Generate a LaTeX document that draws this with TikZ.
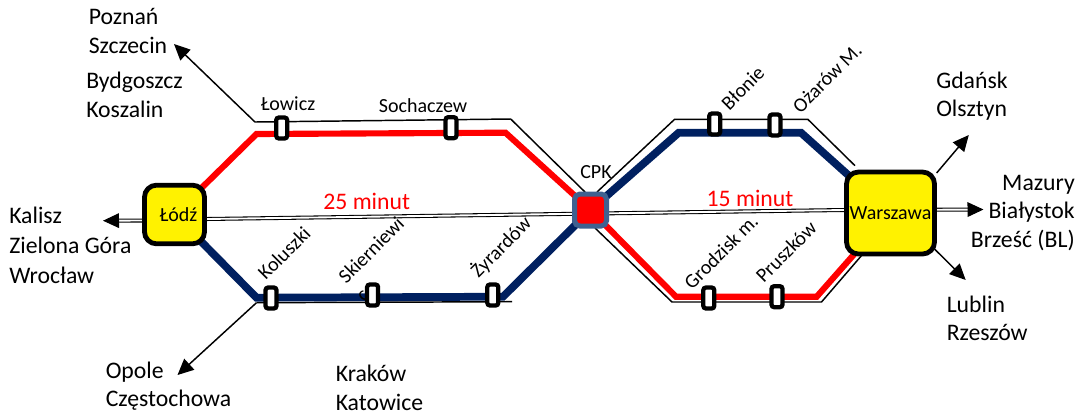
\documentclass[tikz,border=0pt]{standalone}
\usepackage{fontspec}
\setmainfont{Carlito}
\usetikzlibrary{arrows.meta,backgrounds}
\definecolor{kolorgranat}{HTML}{002060}
\definecolor{kolorcpk}{HTML}{3F6190}
\tikzset{
  miasto/.style={draw, line width=3.6pt, rounded corners=9pt, fill=yellow, outer sep=0pt, inner sep=0pt, font=\fontsize{15pt}{18pt}\selectfont},
  stacja/.style={draw, line width=3.2pt, rounded corners=2pt, fill=white, minimum width=8.25pt, minimum height=15.75pt, outer sep=0pt, inner sep=0pt},
  nazwa/.style={font=\fontsize{15pt}{18pt}\selectfont, inner sep=0pt},
  kierunek/.style={font=\fontsize{17.8pt}{21.4pt}\selectfont, inner sep=0pt, align=left, anchor=west},
  czas/.style={font=\fontsize{17.8pt}{21pt}\selectfont, text=red, inner sep=0pt},
  czerwona/.style={draw=red, line width=4.6pt},
  granatowa/.style={draw=kolorgranat, line width=5.8pt},
  cienka/.style={draw=black, line width=1.1pt},
  strzalka/.style={draw=black, line width=1.1pt, -{Triangle[length=12pt,width=11pt]}},
  podwojna/.style={draw=black, line width=0.8pt, double=white, double distance=1.4pt}
}
\begin{document}
\begin{tikzpicture}[x=0.75pt,y=-0.75pt]
  \useasboundingbox (0,0) rectangle (1077,415);
  % wezly
  \node[miasto, minimum width=45pt, minimum height=44pt] (lodz) at (174.5,214.5) {\hspace{6pt}Łódź};
  \node[miasto, minimum width=66pt, minimum height=61.5pt] (warszawa) at (890.5,213) {Warszawa};
  \node[draw=kolorcpk, line width=3.75pt, rounded corners=4pt, fill=red, minimum size=24pt, outer sep=0pt, inner sep=0pt] (cpk) at (590.5,210) {};
  \node[nazwa] (cpkl) at (596,172) {CPK};
  % stacje
  \node[stacja] (lowicz) at (281.7,128) {};
  \node[stacja] (sochaczew) at (451,127.7) {};
  \node[stacja] (koluszki) at (271,298) {};
  \node[stacja] (skierniewice) at (372.6,295) {};
  \node[stacja] (zyrardow) at (492.8,295) {};
  \node[stacja] (blonie) at (714.7,124) {};
  \node[stacja] (ozarow) at (775,125) {};
  \node[stacja] (grodzisk) at (708.8,298) {};
  \node[stacja] (pruszkow) at (777,296.7) {};
  % nazwy stacji
  \node[nazwa] (lowiczl) at (288,104) {Łowicz};
  \node[nazwa] (sochaczewl) at (423,106) {Sochaczew};
  \node[nazwa, rotate=45] (koluszkil) at (284,253) {Koluszki};
  \node[nazwa, rotate=45] (skierniewicel) at (371,250) {Skierniewi};
  \node[nazwa, rotate=45] (zyrardowl) at (501,247) {Żyrardów};
  \node[nazwa, rotate=45] (bloniel) at (742.7,88) {Błonie};
  \node[nazwa, rotate=45] (ozarowl) at (827,78) {Ożarów M.};
  \node[nazwa, rotate=45] (grodziskl) at (721,251.7) {Grodzisk m.};
  \node[nazwa, rotate=45] (pruszkowl) at (786,251.7) {Pruszków};
  % kierunki
  \node[kierunek] (poznan) at (88.5,31) {Poznań\\Szczecin};
  \node[kierunek] (bydgoszcz) at (86,95) {Bydgoszcz\\Koszalin};
  \node[kierunek, font=\fontsize{17.8pt}{22.4pt}\selectfont] (kalisz) at (9,245) {Kalisz\\Zielona Góra\\Wrocław};
  \node[kierunek] (opole) at (105.5,386) {Opole\\Częstochowa};
  \node[kierunek] (krakow) at (335.5,388) {Kraków\\Katowice};
  \node[kierunek] (gdansk) at (936,96) {Gdańsk\\Olsztyn};
  \node[kierunek, align=right, anchor=east] (mazury) at (1075,213) {Mazury\\Białystok\\Brześć (BL)};
  \node[kierunek] (lublin) at (946.5,318.5) {Lublin\\Rzeszów};
  \node[czas] (czas25) at (366.7,201.7) {25 minut};
  \node[czas] (czas15) at (750,198) {15 minut};
  % punkty zalaman
  \coordinate (a1) at (256.5,134);
  \coordinate (a2) at (505.5,132.7);
  \coordinate (b1) at (256.5,297.7);
  \coordinate (b2) at (503,296.7);
  \coordinate (c1) at (678.7,132.7);
  \coordinate (c2) at (801,132.7);
  \coordinate (d1) at (676,296.7);
  \coordinate (d2) at (816.7,296.7);
  \coordinate (e1) at (255,122);
  \coordinate (e2) at (510.7,119);
  \coordinate (e3) at (585,192);
  \coordinate (f1) at (256.5,302.7);
  \coordinate (f2) at (512,301.7);
  \coordinate (g1) at (597,192);
  \coordinate (g2) at (674.6,119.3);
  \coordinate (g3) at (807.8,119.3);
  \coordinate (g4) at (855,165.7);
  \coordinate (h1) at (595,228);
  \coordinate (h2) at (672,302);
  \coordinate (h3) at (821.5,302);
  \coordinate (h4) at (862,255);
  \coordinate (nw) at (174,44);
  \coordinate (sw) at (177.5,375);
  \coordinate (ne) at (968.8,135);
  \coordinate (se) at (965.7,280);
  \coordinate (ne0) at (936.6,173);
  \coordinate (se0) at (934.5,249);
  \coordinate (o1) at (207,219);
  \coordinate (o2) at (844,210);
  \coordinate (o3) at (142,220.5);
  \coordinate (o4) at (103,220.7);
  \coordinate (o5) at (937,209.7);
  \coordinate (o6) at (983.5,209.5);
  \begin{scope}[on background layer]
    \draw[cienka] (e3) -- (e2) -- (e1);
    \draw[cienka] (f1) -- (f2);
    \draw[cienka] (g1) -- (g2) -- (g3) -- (g4);
    \draw[cienka] (h1) -- (h2) -- (h3) -- (h4);
    \draw[czerwona] (lodz.center) -- (a1) -- (a2) -- (cpk.center);
    \draw[czerwona] (cpk.center) -- (d1) -- (d2) -- (warszawa.center);
    \draw[granatowa] (lodz.center) -- (b1) -- (b2) -- (cpk.center);
    \draw[granatowa] (cpk.center) -- (c1) -- (c2) -- (warszawa.center);
    \node[nazwa, rotate=45] (ce) at (367,293) {ce};
    \draw[podwojna] (o1) -- (o2);
    \draw[strzalka] (e1) -- (nw);
    \draw[strzalka] (f1) -- (sw);
    \draw[strzalka] (ne0) -- (ne);
    \draw[strzalka] (se0) -- (se);
    \draw[podwojna, -{Triangle[length=12pt,width=11pt]}] (o3) -- (o4);
    \draw[podwojna, -{Triangle[length=12pt,width=11pt]}] (o5) -- (o6);
  \end{scope}
\end{tikzpicture}
\end{document}
